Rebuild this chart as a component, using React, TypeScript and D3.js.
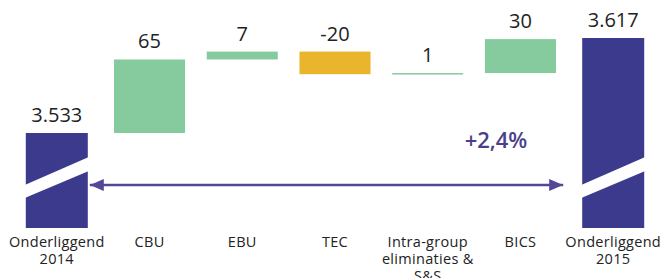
import React from 'react';
import * as d3 from 'd3';

// data
const categories = ['Onderliggend 2014', 'CBU', 'EBU', 'TEC', 'Intra-group eliminaties & S&S', 'BICS', 'Onderliggend 2015'];
const labelLines = [['Onderliggend', '2014'], ['CBU'], ['EBU'], ['TEC'], ['Intra-group', 'eliminaties &', 'S&S'], ['BICS'], ['Onderliggend', '2015']];
const startTotal = 3533;
const endTotal = 3617;
const deltas = [65, 7, -20, 1, 30];
const valueLabels = ['3.533', '65', '7', '-20', '1', '30', '3.617'];
const growthLabel = '+2,4%';

const W = 669;
const H = 278;
const NAVY = '#3c3a8d';
const GREEN = '#86cb9d';
const YELLOW = '#e8b52c';
const PURPLE = '#54479a';
const FONT = '"Open Sans", "DejaVu Sans", sans-serif';

export default function App() {
  const x = d3.scaleBand<string>().domain(categories).range([12, 658]).paddingInner(0.234).paddingOuter(0.1);
  const y = d3.scaleLinear().domain([3449, 3617]).range([228, 38]);
  const bw = x.bandwidth();
  const baseW = 62;
  const bottom = y(3449);

  // running totals for the floating bars
  let run = startTotal;
  const floats = deltas.map((d, i) => {
    const from = run;
    run += d;
    return { cat: categories[i + 1], from, to: run, d, label: valueLabels[i + 1] };
  });

  const bases = [
    { cat: categories[0], v: startTotal, label: valueLabels[0] },
    { cat: categories[6], v: endTotal, label: valueLabels[6] },
  ];

  const leftX = (x(categories[0]) as number) + (bw - baseW) / 2;
  const rightX = (x(categories[6]) as number) + (bw - baseW) / 2;
  const arrowY = bottom - 43;
  const ax1 = leftX + baseW + 2;
  const ax2 = rightX - 19;

  return (
    <svg width={W} height={H} style={{ position: 'absolute', left: 0, top: 0, background: '#fff' }}>
      <defs>
        <marker id="ah" viewBox="0 0 14 12" refX="14" refY="6" markerWidth="14" markerHeight="12" markerUnits="userSpaceOnUse" orient="auto-start-reverse">
          <path d="M0,0 L14,6 L0,12 Z" fill={PURPLE} />
        </marker>
      </defs>

      {bases.map((b) => {
        const bx = (x(b.cat) as number) + (bw - baseW) / 2;
        const top = y(b.v);
        // white break band across the bar
        const brk = `M${bx - 1},${bottom - 30} L${bx + baseW + 1},${bottom - 57} L${bx + baseW + 1},${bottom - 71} L${bx - 1},${bottom - 43} Z`;
        return (
          <g key={b.cat}>
            <rect x={bx} y={top} width={baseW} height={bottom - top} fill={NAVY} />
            <path d={brk} fill="#fff" />
            <text x={bx + baseW / 2} y={top - 11} textAnchor="middle" fontFamily={FONT} fontSize={20} fill="#222">{b.label}</text>
          </g>
        );
      })}

      {floats.map((f) => {
        const top = y(Math.max(f.from, f.to));
        const h = Math.max(1.5, Math.abs(y(f.from) - y(f.to)));
        const bx = x(f.cat) as number;
        return (
          <g key={f.cat}>
            <rect x={bx} y={top} width={bw} height={h} fill={f.d < 0 ? YELLOW : GREEN} />
            <text x={bx + bw / 2} y={top - 11} textAnchor="middle" fontFamily={FONT} fontSize={20} fill="#222">{f.label}</text>
          </g>
        );
      })}

      <line x1={ax1} y1={arrowY} x2={ax2} y2={arrowY} stroke={PURPLE} strokeWidth={2.5} markerStart="url(#ah)" markerEnd="url(#ah)" />
      <text x={496} y={148} textAnchor="middle" fontFamily={FONT} fontSize={22} fontWeight={600} fill="#4b3f8c">{growthLabel}</text>

      {categories.map((c, i) => (
        <text key={c} x={(x(c) as number) + bw / 2} textAnchor="middle" fontFamily={FONT} fontSize={14.5} letterSpacing={0.3} fill="#222">
          {labelLines[i].map((l, j) => (
            <tspan key={j} x={(x(c) as number) + bw / 2} y={247 + j * 17}>{l}</tspan>
          ))}
        </text>
      ))}
    </svg>
  );
}
